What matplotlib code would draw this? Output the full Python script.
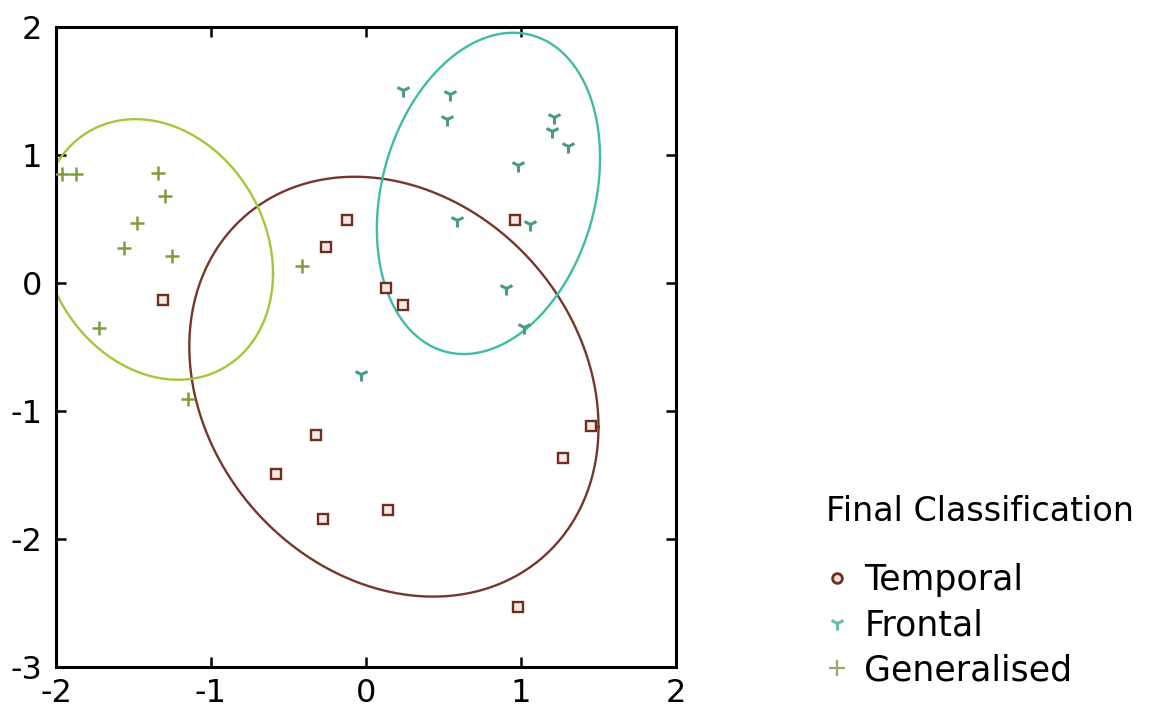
import numpy as np
import matplotlib
matplotlib.use("Agg")
import matplotlib.pyplot as plt
from matplotlib.lines import Line2D

# ---- data ----
temporal_x = [-1.31, -0.12, -0.26, 0.96, 0.13, 0.24, -0.32, -0.58, -0.28, 0.14, 1.27, 1.45, 0.98]
temporal_y = [-0.13, 0.49, 0.28, 0.49, -0.04, -0.17, -1.19, -1.49, -1.84, -1.77, -1.37, -1.12, -2.53]

frontal_x = [0.24, 0.54, 0.52, 1.21, 1.20, 1.30, 0.98, 0.59, 1.06, 0.90, 1.02, -0.03]
frontal_y = [1.51, 1.48, 1.28, 1.30, 1.19, 1.07, 0.92, 0.49, 0.46, -0.04, -0.34, -0.71]

general_x = [-1.96, -1.87, -1.34, -1.30, -1.48, -1.56, -1.25, -0.41, -1.72, -1.15]
general_y = [0.85, 0.85, 0.86, 0.68, 0.47, 0.27, 0.21, 0.13, -0.35, -0.91]

# ellipse parameters: centre, x half-extent, y half-extent, covariance term
ell_names = ["Temporal", "Frontal", "Generalised"]
ell_cx = [0.18, 0.79, -1.35]
ell_cy = [-0.81, 0.70, 0.262]
ell_sx = [1.32, 0.72, 0.75]
ell_sy = [1.64, 1.255, 1.018]
ell_sxy = [-0.415, 0.20, -0.14]

xticks = [-2, -1, 0, 1, 2]
yticks = [-3, -2, -1, 0, 1, 2]
legend_title = "Final Classification"

# ---- style ----
c_temp_line = "#74372a"
c_temp_mark = "#6e2e22"
c_front_line = "#3fbca4"
c_front_mark = "#4a9a8a"
c_gen_line = "#a2c83a"
c_gen_mark = "#7f9c3a"

W, H = 1155, 720
fig = plt.figure(figsize=(W / 100, H / 100), dpi=100)
ax = fig.add_axes([56 / W, 53 / H, 620 / W, 640 / H])


def draw_ellipse(cx, cy, sx, sy, sxy, color):
    cov = np.array([[sx ** 2, sxy], [sxy, sy ** 2]])
    L = np.linalg.cholesky(cov)
    t = np.linspace(0, 2 * np.pi, 400)
    pts = L @ np.vstack([np.cos(t), np.sin(t)])
    ax.plot(cx + pts[0], cy + pts[1], color=color, lw=1.7, zorder=2)


line_cols = [c_temp_line, c_front_line, c_gen_line]
for i in range(3):
    draw_ellipse(ell_cx[i], ell_cy[i], ell_sx[i], ell_sy[i], ell_sxy[i], line_cols[i])

ax.plot(temporal_x, temporal_y, ls="none", marker="s", ms=6.5, mfc="#fbe9e4",
        mec=c_temp_mark, mew=1.7, zorder=3)
ax.plot(frontal_x, frontal_y, ls="none", marker="1", ms=10, mec=c_front_mark,
        mew=2.2, zorder=3)
ax.plot(general_x, general_y, ls="none", marker="+", ms=10, mec=c_gen_mark,
        mew=1.8, zorder=3)

ax.set_xlim(-2, 2)
ax.set_ylim(-3, 2)
ax.set_xticks(xticks)
ax.set_yticks(yticks)
ax.set_xticklabels([str(v) for v in xticks])
ax.set_yticklabels([str(v) for v in yticks])
ax.tick_params(direction="in", length=7, width=1.8, labelsize=23,
               top=True, right=True, colors="black")
ax.tick_params(axis="x", pad=8)
ax.tick_params(axis="y", pad=10)
for s in ax.spines.values():
    s.set_linewidth(2.2)

handles = [
    Line2D([], [], ls="none", marker="o", ms=7, mfc="#fbe0d8", mec=c_temp_mark, mew=2),
    Line2D([], [], ls="none", marker="1", ms=10, mec="#6cbcaa", mew=2.2),
    Line2D([], [], ls="none", marker="+", ms=11, mec="#9aa86a", mew=1.6),
]
leg = fig.legend(handles, ell_names, title=legend_title, loc="upper left",
                 bbox_to_anchor=(795 / W, 1 - 464 / H), frameon=False,
                 fontsize=25, title_fontsize=24, alignment="left",
                 handlelength=0.6, handletextpad=0.5, labelspacing=0.32)
leg._legend_box.sep = 25

fig.savefig("out.png", dpi=100)
